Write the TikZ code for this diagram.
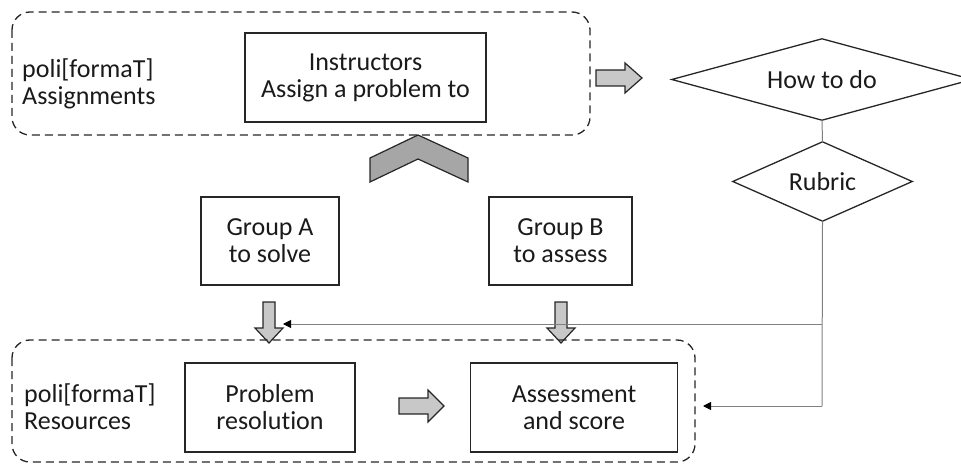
\documentclass[tikz,border=0pt]{standalone}
\usepackage{fontspec}
\setmainfont{Carlito}[Ligatures=NoCommon]
\usetikzlibrary{arrows.meta}
\definecolor{txt}{HTML}{1A1A1A}
\definecolor{lgray}{HTML}{C8C8C8}
\definecolor{dgray}{HTML}{A6A6A6}
\definecolor{conn}{HTML}{808080}
\tikzset{
  x=1pt,y=-1pt,
  every node/.style={font=\fontsize{26}{27}\selectfont,text=txt,align=center,inner sep=0pt},
  group/.style={draw=black!85,line width=1.3pt,dash pattern=on 8pt off 5pt,rounded corners=18pt},
  boxx/.style={draw=black!85,line width=1.3pt},
  blockarrow/.style={draw=black!85,line width=1.2pt,fill=lgray},
  chev/.style={draw=black!85,line width=1.2pt,fill=dgray},
  conn/.style={draw=conn,line width=1pt},
  connarr/.style={conn,-{Triangle[length=8pt,width=8pt,fill=black,color=black]}},
  diam/.style={draw=black!85,line width=1.3pt},
}
\begin{document}
\begin{tikzpicture}
\useasboundingbox (0,0) rectangle (961,465);
% top group
\draw[group] (12,12) rectangle (590,135);
\node[anchor=west,align=left] (topl) at (22,84) {poli[formaT]\\Assignments};
\node[boxx,minimum width=241,minimum height=89] (instr) at (365.5,77.5) {Instructors\\Assign a problem to};
% right block arrow
\draw[blockarrow] (596,70)--(625,70)--(625,63)--(642,78)--(625,93)--(625,86)--(596,86)--cycle;
% diamonds
\node[minimum width=300,minimum height=81] (how) at (822,79.5) {How to do};
\draw[diam] (how.west)--(how.north)--(how.east)--(how.south)--cycle;
\node[minimum width=179,minimum height=79] (rub) at (822.5,181.5) {Rubric};
\draw[diam] (rub.west)--(rub.north)--(rub.east)--(rub.south)--cycle;
\draw[conn] (how.south)--(rub.north);
% chevron
\draw[chev] (418,135)--(468,158)--(468,182)--(418,159)--(370,182)--(370,158)--cycle;
% groups
\node[boxx,minimum width=138,minimum height=88] (ga) at (270,241) {Group A\\to solve};
\node[boxx,minimum width=143,minimum height=88] (gb) at (560.5,241) {Group B\\to assess};
% down block arrows
\draw[blockarrow] (263,302)--(275,302)--(275,328)--(283,328)--(269,343)--(255,328)--(263,328)--cycle;
\draw[blockarrow] (555,302)--(567,302)--(567,328)--(575,328)--(561,343)--(547,328)--(555,328)--cycle;
% bottom group
\draw[group] (12,340) rectangle (695,462);
\node[anchor=west,align=left] (botl) at (24,407) {poli[formaT]\\Resources};
\node[boxx,minimum width=170,minimum height=89] (prob) at (270,407.5) {Problem\\resolution};
\node[boxx,minimum width=207,minimum height=89] (ass) at (574,407.5) {Assessment\\and score};
\draw[blockarrow] (399,398)--(428,398)--(428,390)--(444,406)--(428,422)--(428,414)--(399,414)--cycle;
% feedback connectors
\coordinate (br) at (822,324);
\coordinate (bt) at (822,406);
\coordinate (t1) at (283,324);
\coordinate (t2) at (703,406);
\draw[conn] (rub.south)--(bt);
\draw[connarr] (br)--(t1);
\draw[connarr] (bt)--(t2);
\end{tikzpicture}
\end{document}
